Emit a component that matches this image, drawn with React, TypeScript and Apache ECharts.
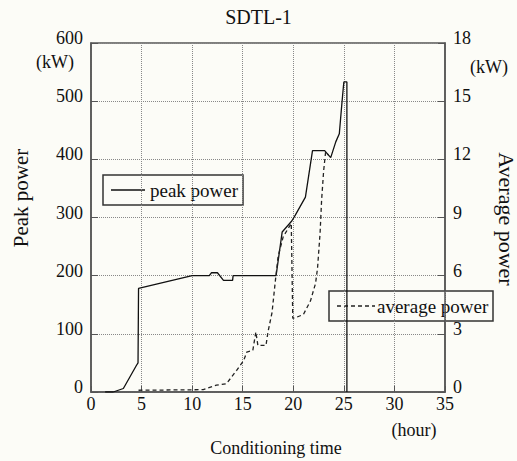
import React, { useEffect, useRef } from "react";
import * as echarts from "echarts";

const titleText = "SDTL-1";
const xTicks = { min: 0, max: 35, interval: 5 };
const leftTicks = { min: 0, max: 600, interval: 100 };
const rightTicks = { min: 0, max: 18, interval: 3 };

const peakTime = [1.4, 2.2, 3.2, 4.5, 4.65, 4.7, 10.0, 11.7, 11.9, 12.5, 13.1, 14.0, 14.05, 18.3, 18.9, 19.85, 20.2, 21.2, 21.9, 23.1, 23.7, 24.2, 24.55, 24.8, 24.95, 25.0, 25.3, 25.3];
const peakPower = [0, 0, 6, 46, 50, 178, 200, 200, 205, 205, 192, 192, 200, 200, 275, 294, 304, 335, 415, 415, 403, 430, 444, 495, 524, 533, 533, 0];

const avgTime = [4.7, 11.1, 12.4, 13.4, 14.4, 15.1, 15.4, 16.0, 16.3, 16.5, 17.3, 17.5, 17.9, 18.2, 18.5, 19.0, 19.8, 19.95, 20.3, 21.0, 21.7, 22.2, 22.4, 22.65, 22.8, 23.0, 23.2, 23.5];
const avgPower = [0.09, 0.12, 0.35, 0.43, 1.12, 1.63, 2.06, 2.15, 3.1, 2.4, 2.4, 3.1, 4.1, 5.6, 7.0, 8.0, 8.7, 3.8, 3.85, 4.0, 4.7, 5.6, 6.4, 8.2, 9.9, 11.4, 12.4, 12.2];

const peakName = "peak power";
const avgName = "average power";

const FONT = "Liberation Serif";
const BG = "#fcfcf7";

export default function App() {
  const ref = useRef<HTMLDivElement>(null);
  useEffect(() => {
    if (!ref.current) return;
    const chart = echarts.init(ref.current, null, { renderer: "svg" });
    const axisLineStyle = { color: "#555", width: 1.5 };
    const splitStyle = { color: "#888", width: 1, type: [1, 1] as any };
    const label = { fontFamily: FONT, fontSize: 18, color: "#111" };
    const txt = (size: number) => `${size}px ${FONT}`;
    chart.setOption({
      animation: false,
      backgroundColor: BG,
      textStyle: { fontFamily: FONT },
      title: {
        text: titleText,
        left: "center",
        top: 2,
        textStyle: { fontFamily: FONT, fontSize: 20, fontWeight: "normal", color: "#111" },
      },
      grid: { left: 91, right: 72, top: 43, bottom: 69, show: true, borderColor: "#555", borderWidth: 1.5, backgroundColor: "transparent" },
      xAxis: {
        type: "value",
        min: xTicks.min,
        max: xTicks.max,
        interval: xTicks.interval,
        axisLine: { show: true, lineStyle: axisLineStyle },
        axisTick: { show: true, inside: true, length: 6, lineStyle: { color: "#555" } },
        axisLabel: { ...label, margin: 3 },
        splitLine: { show: true, lineStyle: splitStyle },
      },
      yAxis: [
        {
          type: "value",
          min: leftTicks.min,
          max: leftTicks.max,
          interval: leftTicks.interval,
          position: "left",
          axisLine: { show: true, lineStyle: axisLineStyle },
          axisTick: { show: true, inside: true, length: 7, lineStyle: { color: "#555" } },
          axisLabel: { ...label, margin: 8, verticalAlign: "bottom", lineHeight: 10 },
          splitLine: { show: true, lineStyle: splitStyle },
        },
        {
          type: "value",
          min: rightTicks.min,
          max: rightTicks.max,
          interval: rightTicks.interval,
          position: "right",
          axisLine: { show: true, lineStyle: axisLineStyle },
          axisTick: { show: true, inside: true, length: 7, lineStyle: { color: "#555" } },
          axisLabel: { ...label, margin: 8, verticalAlign: "bottom", lineHeight: 10 },
          splitLine: { show: false },
        },
      ],
      series: [
        {
          name: peakName,
          type: "line",
          yAxisIndex: 0,
          symbol: "none",
          showSymbol: false,
          lineStyle: { color: "#111", width: 1.3 },
          data: peakTime.map((t, i) => [t, peakPower[i]]),
          z: 5,
        },
        {
          name: avgName,
          type: "line",
          yAxisIndex: 1,
          symbol: "none",
          showSymbol: false,
          lineStyle: { color: "#222", width: 1.3, type: [4, 3] },
          data: avgTime.map((t, i) => [t, avgPower[i]]),
          z: 5,
        },
      ],
      graphic: [
        { type: "text", x: 55, y: 62, style: { text: "(kW)", font: txt(18), fill: "#111", align: "center", verticalAlign: "middle" } },
        { type: "text", x: 489, y: 67, style: { text: "(kW)", font: txt(18), fill: "#111", align: "center", verticalAlign: "middle" } },
        { type: "text", x: 414, y: 430, style: { text: "(hour)", font: txt(18), fill: "#111", align: "center", verticalAlign: "middle" } },
        { type: "text", x: 276, y: 448, style: { text: "Conditioning time", font: txt(18), fill: "#111", align: "center", verticalAlign: "middle" } },
        { type: "text", x: 21, y: 198, rotation: Math.PI / 2, style: { text: "Peak power", font: txt(21), fill: "#111", align: "center", verticalAlign: "middle" } },
        { type: "text", x: 506, y: 219, rotation: -Math.PI / 2, style: { text: "Average power", font: txt(22), fill: "#111", align: "center", verticalAlign: "middle" } },
        {
          type: "group",
          z: 100,
          children: [
            { type: "rect", shape: { x: 103, y: 175, width: 140, height: 30 }, style: { fill: BG, stroke: "#333", lineWidth: 1.5 } },
            { type: "line", shape: { x1: 111, y1: 190, x2: 145, y2: 190 }, style: { stroke: "#111", lineWidth: 1.3 } },
            { type: "text", x: 150, y: 190, style: { text: peakName, font: txt(19), fill: "#111", align: "left", verticalAlign: "middle" } },
            { type: "rect", shape: { x: 329, y: 291, width: 164, height: 30 }, style: { fill: BG, stroke: "#333", lineWidth: 1.5 } },
            { type: "line", shape: { x1: 337, y1: 306, x2: 375, y2: 306 }, style: { stroke: "#222", lineWidth: 1.3, lineDash: [4, 3] } },
            { type: "text", x: 377, y: 306, style: { text: avgName, font: txt(19), fill: "#111", align: "left", verticalAlign: "middle" } },
          ],
        },
      ],
    });
    return () => chart.dispose();
  }, []);
  return <div ref={ref} style={{ position: "fixed", left: 0, top: 0, width: 517, height: 461 }} />;
}
